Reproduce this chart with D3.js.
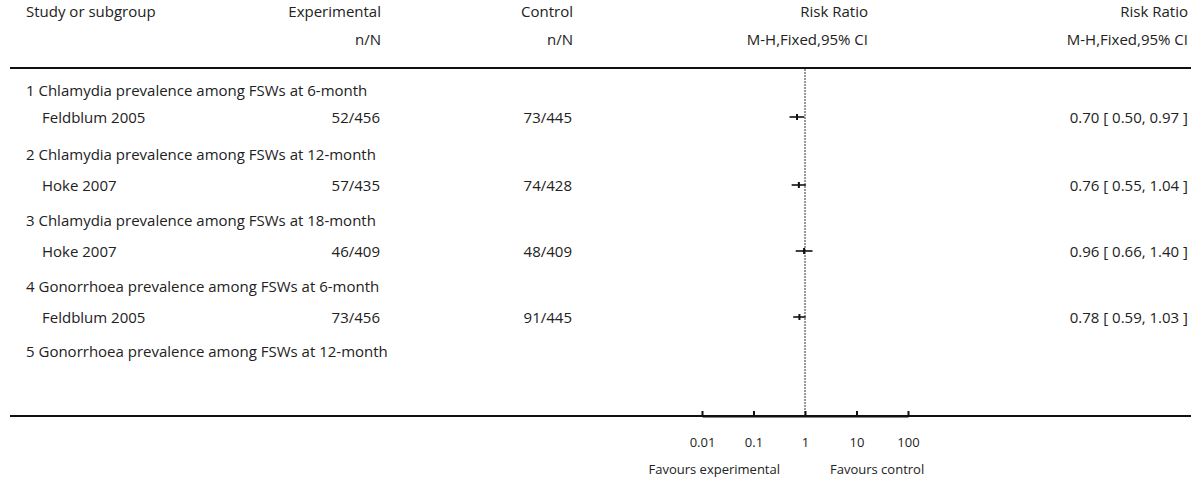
<!DOCTYPE html>
<html><head><meta charset="utf-8">
<script src="https://cdn.jsdelivr.net/npm/d3@7"></script>
<style>
html,body{margin:0;padding:0;background:#fff;}
svg text{font-family:"Open Sans",Lato,sans-serif;font-size:15px;fill:#222;}
</style></head>
<body><svg id="c" width="1191" height="480"></svg>
<script>
const groupNames = [
  "1 Chlamydia prevalence among FSWs at 6-month",
  "2 Chlamydia prevalence among FSWs at 12-month",
  "3 Chlamydia prevalence among FSWs at 18-month",
  "4 Gonorrhoea prevalence among FSWs at 6-month",
  "5 Gonorrhoea prevalence among FSWs at 12-month"
];
const studyNames = ["Feldblum 2005", "Hoke 2007", "Hoke 2007", "Feldblum 2005", null];
const expEvents = [52, 57, 46, 73, null];
const expTotal = [456, 435, 409, 456, null];
const ctlEvents = [73, 74, 48, 91, null];
const ctlTotal = [445, 428, 409, 445, null];
const rr = [0.70, 0.76, 0.96, 0.78, null];
const rrLow = [0.50, 0.55, 0.66, 0.59, null];
const rrHigh = [0.97, 1.04, 1.40, 1.03, null];
const tickValues = [0.01, 0.1, 1, 10, 100];
const tickLabels = ["0.01", "0.1", "1", "10", "100"];

const svg = d3.select("#c");
const x = d3.scaleLog().domain([0.01, 100]).range([702, 908]);

const groupY = [96, 160, 226, 292, 357];
const studyY = [123, 191, 257, 323, null];

// headers
const hdr = svg.append("g");
hdr.append("text").attr("x", 26).attr("y", 17).text("Study or subgroup");
hdr.append("text").attr("x", 381).attr("y", 17).attr("text-anchor", "end").text("Experimental");
hdr.append("text").attr("x", 381).attr("y", 45).attr("text-anchor", "end").text("n/N");
hdr.append("text").attr("x", 573).attr("y", 17).attr("text-anchor", "end").text("Control");
hdr.append("text").attr("x", 573).attr("y", 45).attr("text-anchor", "end").text("n/N");
hdr.append("text").attr("x", 868).attr("y", 17).attr("text-anchor", "end").text("Risk Ratio");
hdr.append("text").attr("x", 868).attr("y", 45).attr("text-anchor", "end").text("M-H,Fixed,95% CI");
hdr.append("text").attr("x", 1188).attr("y", 17).attr("text-anchor", "end").text("Risk Ratio");
hdr.append("text").attr("x", 1188).attr("y", 45).attr("text-anchor", "end").text("M-H,Fixed,95% CI");

// rules
svg.append("line").attr("x1", 10).attr("x2", 1191).attr("y1", 68).attr("y2", 68)
  .attr("stroke", "#111").attr("stroke-width", 2);
svg.append("line").attr("x1", 10).attr("x2", 1191).attr("y1", 416).attr("y2", 416)
  .attr("stroke", "#111").attr("stroke-width", 2);

// null line
svg.append("line").attr("x1", x(1)).attr("x2", x(1)).attr("y1", 69).attr("y2", 416)
  .attr("stroke", "#333").attr("stroke-width", 1).attr("stroke-dasharray", "2,1");

const fmt = d3.format(".2f");
groupNames.forEach((g, i) => {
  svg.append("text").attr("x", 26).attr("y", groupY[i]).text(g);
  if (studyNames[i] !== null) {
    const yy = studyY[i];
    svg.append("text").attr("x", 42).attr("y", yy).text(studyNames[i]);
    svg.append("text").attr("x", 380).attr("y", yy).attr("text-anchor", "end")
      .text(expEvents[i] + "/" + expTotal[i]);
    svg.append("text").attr("x", 572).attr("y", yy).attr("text-anchor", "end")
      .text(ctlEvents[i] + "/" + ctlTotal[i]);
    svg.append("text").attr("x", 1188).attr("y", yy).attr("text-anchor", "end")
      .text(fmt(rr[i]) + " [ " + fmt(rrLow[i]) + ", " + fmt(rrHigh[i]) + " ]");
    const cy = yy - 6;
    svg.append("line").attr("x1", x(rrLow[i])).attr("x2", x(rrHigh[i]))
      .attr("y1", cy).attr("y2", cy).attr("stroke", "#111").attr("stroke-width", 1.6);
    svg.append("rect").attr("x", x(rr[i]) - 1).attr("y", cy - 3)
      .attr("width", 2).attr("height", 6).attr("fill", "#111");
  }
});

// axis
const axis = d3.axisBottom(x).tickValues(tickValues)
  .tickFormat((d, i) => tickLabels[i]).tickSizeInner(-5).tickSizeOuter(0).tickPadding(22);
const ag = svg.append("g").attr("transform", "translate(0,416)").call(axis);
ag.select(".domain").attr("stroke", "#111").attr("stroke-width", 2);
ag.selectAll(".tick line").attr("stroke", "#111").attr("stroke-width", 2);
ag.selectAll(".tick text").style("font-family", "'Open Sans',Lato,sans-serif")
  .style("font-size", "13px").attr("fill", "#222");

svg.append("text").attr("x", x(1) - 25).attr("y", 474).attr("text-anchor", "end")
  .style("font-size", "13px").text("Favours experimental");
svg.append("text").attr("x", x(1) + 25).attr("y", 474).attr("text-anchor", "start")
  .style("font-size", "13px").text("Favours control");
</script></body></html>
